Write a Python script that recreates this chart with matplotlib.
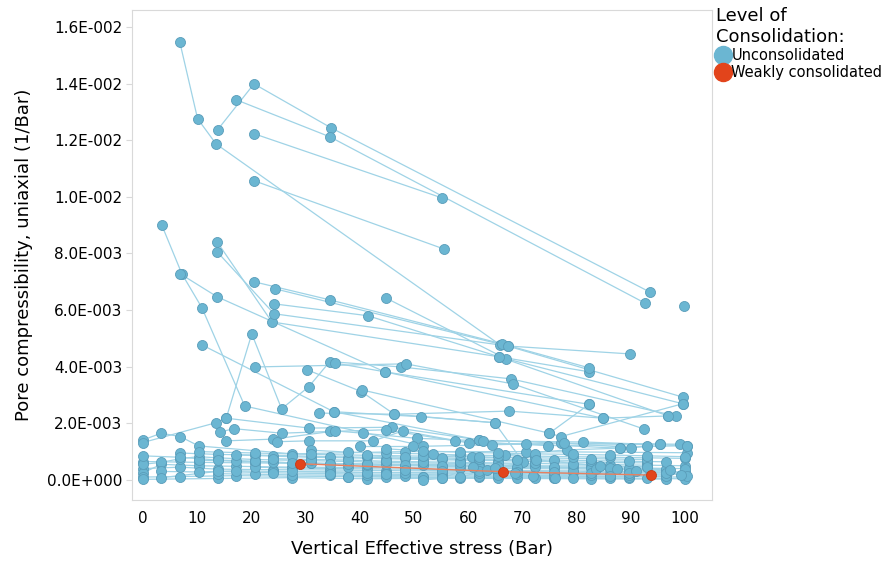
import numpy as np
import matplotlib
matplotlib.use("Agg")
import matplotlib.pyplot as plt
from matplotlib.lines import Line2D
from matplotlib.ticker import FuncFormatter, MultipleLocator

# stress (Bar) and pore compressibility (in units of 1E-003 1/Bar), one list per sample
top_x = [
    [6.8, 10.1, 13.5, 65.9],
    [13.8, 20.5, 34.7, 93.5],
    [17.2, 34.5, 92.6],
    [20.5, 55.2],
    [20.5, 55.5],
    [99.8],
]
top_y = [
    [15.48, 12.76, 11.87, 4.77],
    [12.37, 13.99, 12.44, 6.64],
    [13.43, 12.12, 6.25],
    [12.23, 9.96],
    [10.57, 8.16],
    [6.15],
]

mid_x = [
    [3.5, 7.2, 10.9, 18.8, 51.7],
    [6.9, 13.7, 44.6, 82.3],
    [10.9, 35.2, 62.0],
    [13.7, 23.8, 65.7, 82.3],
    [13.7, 24.2, 67.3, 89.9],
    [20.5, 34.5, 66.2, 82.3],
    [24.4, 67.3, 99.7],
    [44.8, 67.0, 99.6],
    [24.2, 41.5, 65.7, 96.9],
    [15.4, 20.1, 25.6, 30.6, 34.5, 47.6, 67.9, 98.3],
    [20.7, 48.5, 68.3, 92.4],
    [30.3, 40.3, 46.4, 64.9],
    [35.4, 44.6, 84.9],
    [40.4, 75.0, 82.3],
]
mid_y = [
    [9.0, 7.28, 6.08, 2.61, 1.20],
    [7.28, 6.47, 3.82, 2.67],
    [4.77, 2.41, 1.41],
    [8.41, 5.58, 4.35, 3.82],
    [8.06, 5.87, 4.73, 4.45],
    [7.0, 6.36, 4.81, 3.96],
    [6.75, 4.73, 2.92],
    [6.43, 4.28, 2.69],
    [6.22, 5.80, 4.35, 2.26],
    [2.19, 5.16, 2.51, 3.29, 4.18, 3.99, 3.57, 2.26],
    [3.99, 4.10, 3.39, 1.80],
    [3.89, 3.12, 2.32, 2.02],
    [4.13, 3.82, 2.18],
    [3.18, 1.65, 2.67],
]

upper_band_x = [
    [0, 3.4, 6.9, 10.3, 27.6, 48.3, 70.7, 100.3],
    [0, 13.5, 15.4, 30.7, 46.0, 62.0, 77.1, 99.1],
    [14.2, 16.8, 25.6, 34.5, 44.8, 57.6, 74.8, 95.4],
    [15.4, 24.0, 35.5, 40.6, 50.5, 62.8, 81.2, 100.3],
    [24.8, 30.7, 42.5, 48.0, 60.2, 70.7, 88.1],
    [32.5, 46.4, 67.6, 84.9, 96.9],
    [35.2, 51.4, 64.9, 70.2],
    [75.0, 77.1, 99.6],
    [53.6, 60.8, 66.8, 78.2, 88.1, 93.0, 100.3],
    [40.0, 49.8, 64.4, 77.7, 90.1, 95.4],
]
upper_band_y = [
    [1.41, 1.65, 1.53, 1.20, 0.92, 1.00, 1.00, 0.96],
    [1.32, 2.02, 2.18, 1.83, 1.86, 1.41, 1.30, 1.26],
    [1.69, 1.81, 1.65, 1.71, 1.77, 1.38, 1.21, 1.26],
    [1.38, 1.44, 1.73, 1.65, 1.47, 1.38, 1.34, 1.21],
    [1.35, 1.38, 1.38, 1.73, 1.30, 1.27, 1.12],
    [2.36, 2.32, 2.43, 2.18, 2.26],
    [2.41, 2.23, 2.02, 0.62],
    [1.65, 1.53, 2.69],
    [0.92, 0.82, 0.88, 1.06, 1.12, 1.18, 1.21],
    [1.18, 1.18, 1.24, 1.30, 1.14, 1.26],
]

band_x = [
    [0, 10.3, 20.7, 31.0, 41.4, 51.7, 62.1, 72.4, 82.7, 93.1],
    [0, 6.9, 13.8, 24.1, 34.5, 44.8, 55.2, 65.5, 79.3, 100],
    [0, 3.4, 10.3, 17.2, 27.6, 37.9, 48.3, 58.6, 69.0, 86.2, 96.5],
    [0, 6.9, 17.2, 27.6, 37.9, 51.7, 62.1, 75.9, 89.6],
    [0, 13.8, 27.6, 41.4, 55.2, 69.0, 82.7, 96.5],
    [0, 3.4, 6.9, 10.3, 13.8, 20.7, 31.0, 44.8, 58.6, 72.4],
    [3.4, 10.3, 17.2, 24.1, 34.5, 44.8, 55.2, 65.5, 75.9, 86.2, 100],
    [6.9, 13.8, 20.7, 27.6, 34.5, 41.4, 48.3, 55.2, 62.1, 69.0],
    [10.3, 17.2, 24.1, 31.0, 37.9, 44.8, 51.7, 58.6, 65.5, 72.4, 79.3],
    [13.8, 20.7, 27.6, 34.5, 41.4, 48.3, 55.2, 62.1, 75.9, 89.6, 100],
    [17.2, 24.1, 31.0, 37.9, 44.8, 51.7, 58.6, 65.5, 72.4, 82.7, 93.1],
    [20.7, 27.6, 34.5, 41.4, 48.3, 55.2, 62.1, 69.0, 79.3, 89.6, 100],
    [24.1, 31.0, 37.9, 44.8, 51.7, 58.6, 65.5, 72.4, 79.3, 86.2, 93.1, 100],
    [27.6, 34.5, 41.4, 48.3, 55.2, 62.1, 69.0, 75.9, 82.7, 89.6, 96.5],
    [31.0, 37.9, 44.8, 51.7, 58.6, 65.5, 72.4, 79.3, 86.2, 93.1, 100],
    [34.5, 41.4, 48.3, 55.2, 62.1, 69.0, 75.9, 82.7, 89.6, 96.5],
    [37.9, 44.8, 51.7, 58.6, 65.5, 72.4, 79.3, 86.2, 93.1, 100],
    [41.4, 48.3, 55.2, 62.1, 69.0, 75.9, 82.7, 89.6, 96.5],
    [0, 6.9, 13.8, 20.7, 27.6, 34.5, 41.4, 48.3, 55.2, 65.5, 75.9, 86.2, 100],
    [3.4, 13.8, 24.1, 34.5, 44.8, 55.2, 65.5, 75.9, 86.2, 96.5],
    [10.3, 20.7, 31.0, 41.4, 51.7, 62.1, 72.4, 82.7, 93.1],
    [44.8, 51.7, 58.6, 65.5, 72.4, 79.3, 86.2, 93.1, 100],
    [48.3, 55.2, 62.1, 69.0, 75.9, 82.7, 89.6, 96.5],
    [55.1, 61.0, 63.4, 68.6, 72.0, 76.0, 83.6, 87.4, 90.9, 97.2, 100.3],
    [51.7, 58.6, 64.9, 72.6, 84.3, 93.1, 99.2],
]
band_y = [
    [0.65, 0.62, 0.60, 0.58, 0.56, 0.55, 0.52, 0.50, 0.49, 0.47],
    [0.40, 0.45, 0.38, 0.36, 0.35, 0.33, 0.31, 0.30, 0.28, 0.26],
    [0.25, 0.55, 0.50, 0.48, 0.45, 0.44, 0.43, 0.42, 0.40, 0.38, 0.35],
    [0.10, 0.12, 0.15, 0.13, 0.12, 0.10, 0.09, 0.08, 0.07],
    [0.02, 0.05, 0.08, 0.04, 0.06, 0.05, 0.04, 0.03],
    [0.55, 0.62, 0.75, 0.82, 0.78, 0.72, 0.68, 0.62, 0.58, 0.55],
    [0.30, 0.28, 0.32, 0.30, 0.28, 0.26, 0.25, 0.24, 0.22, 0.21, 0.20],
    [0.95, 0.90, 0.88, 0.85, 0.82, 0.80, 0.76, 0.74, 0.71, 0.69],
    [0.70, 0.66, 0.62, 0.60, 0.57, 0.55, 0.53, 0.51, 0.49, 0.47, 0.45],
    [0.22, 0.20, 0.18, 0.17, 0.16, 0.15, 0.14, 0.13, 0.12, 0.11, 0.10],
    [0.88, 0.84, 0.80, 0.78, 0.75, 0.72, 0.70, 0.68, 0.65, 0.62, 0.60],
    [0.45, 0.42, 0.40, 0.39, 0.38, 0.36, 0.35, 0.33, 0.32, 0.30, 0.28],
    [0.75, 0.72, 0.70, 0.66, 0.64, 0.62, 0.60, 0.58, 0.56, 0.54, 0.52, 0.50],
    [0.30, 0.28, 0.26, 0.25, 0.24, 0.23, 0.22, 0.20, 0.19, 0.18, 0.17],
    [1.05, 0.98, 0.95, 0.92, 0.88, 0.86, 0.84, 0.82, 0.80, 0.78, 0.76],
    [0.55, 0.52, 0.50, 0.48, 0.46, 0.45, 0.43, 0.42, 0.41, 0.40],
    [0.12, 0.10, 0.09, 0.08, 0.07, 0.07, 0.06, 0.05, 0.05, 0.04],
    [0.85, 0.80, 0.78, 0.74, 0.72, 0.70, 0.68, 0.66, 0.64],
    [0.85, 0.80, 0.70, 0.66, 0.60, 0.57, 0.55, 0.52, 0.50, 0.47, 0.44, 0.42, 0.40],
    [0.08, 0.30, 0.25, 0.22, 0.20, 0.18, 0.17, 0.15, 0.14, 0.13],
    [1.00, 0.95, 0.90, 0.87, 0.84, 0.80, 0.78, 0.75, 0.72],
    [1.10, 1.02, 0.98, 0.95, 0.92, 0.90, 0.88, 0.85, 0.82],
    [0.35, 0.33, 0.31, 0.29, 0.27, 0.26, 0.25, 0.24],
    [0.06, 0.45, 0.35, 0.24, 0.14, 0.08, 0.38, 0.38, 0.33, 0.35, 0.14],
    [0.00, 0.10, 0.41, 0.71, 0.49, 0.45, 0.18],
]

weak_x = [29.0, 66.4, 93.7]
weak_y = [0.57, 0.29, 0.17]

line_c = "#9fd3e6"
face_c = "#6bb6d2"
edge_c = "#5a9dba"
red_c = "#e2441b"


def sci3(v, pos):
    if abs(v) < 1e-12:
        return "0.0E+000"
    e = int(np.floor(np.log10(abs(v)) + 1e-9))
    return f"{v / 10**e:.1f}E{e:+04d}"


fig = plt.figure(figsize=(8.88, 5.64), dpi=100)
ax = fig.add_axes([132 / 888, 64 / 564, 580 / 888, 490 / 564])

groups = [(top_x, top_y), (mid_x, mid_y), (upper_band_x, upper_band_y), (band_x, band_y)]
for gx, gy in groups:
    for xs, ys in zip(gx, gy):
        ax.plot(xs, np.array(ys) * 1e-3, color=line_c, lw=0.9, zorder=1)
for gx, gy in groups:
    for xs, ys in zip(gx, gy):
        ax.plot(xs, np.array(ys) * 1e-3, ls="none", marker="o", ms=7.2,
                mfc=face_c, mec=edge_c, mew=0.6, zorder=2)

ax.plot(weak_x, np.array(weak_y) * 1e-3, color="#e8805f", lw=1.0, zorder=3)
ax.plot(weak_x, np.array(weak_y) * 1e-3, ls="none", marker="o", ms=7.2,
        mfc=red_c, mec="#c83a14", mew=0.6, zorder=4)

ax.set_xlim(-2.0, 105.0)
ax.set_ylim(-0.71e-3, 16.6e-3)
ax.xaxis.set_major_locator(MultipleLocator(10))
ax.yaxis.set_major_locator(MultipleLocator(0.002))
ax.yaxis.set_major_formatter(FuncFormatter(sci3))

for s in ax.spines.values():
    s.set_color("#d9d9d9")
    s.set_linewidth(0.8)
ax.tick_params(axis="y", length=4, color="#d9d9d9", labelsize=11, pad=3)
ax.tick_params(axis="x", length=0, labelsize=11, pad=8)

ax.set_xlabel("Vertical Effective stress (Bar)", fontsize=13, labelpad=10)
ax.set_ylabel("Pore compressibility, uniaxial (1/Bar)", fontsize=13, labelpad=10)

handles = [
    Line2D([], [], ls="none", marker="o", ms=13, mfc=face_c, mec=face_c),
    Line2D([], [], ls="none", marker="o", ms=13, mfc=red_c, mec=red_c),
]
fig.legend(handles, ["Unconsolidated", "Weakly consolidated"],
           title="Level of\nConsolidation:", title_fontsize=13, fontsize=10.5,
           loc="upper left", bbox_to_anchor=(716 / 888, 1 - 7 / 564),
           frameon=False, alignment="left", handlelength=0.9,
           handletextpad=0.15, borderpad=0, borderaxespad=0, labelspacing=0.15)

fig.savefig("out.png", dpi=100)
